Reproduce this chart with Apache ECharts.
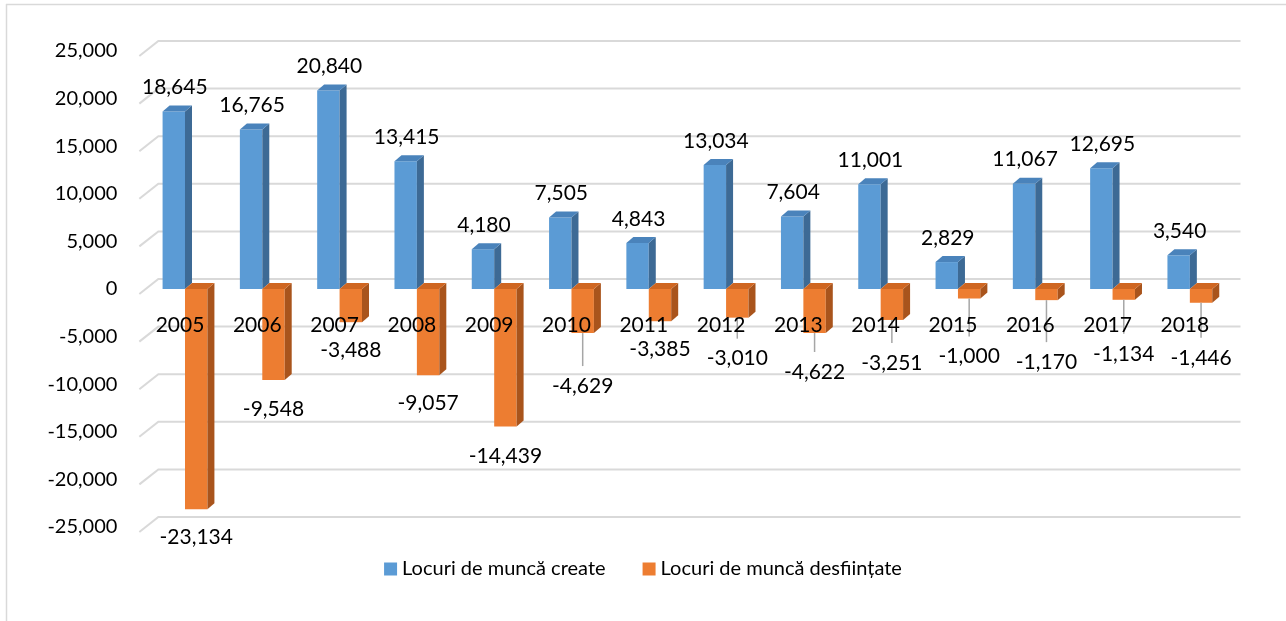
<!DOCTYPE html>
<html>
<head>
<meta charset="utf-8">
<script src="https://cdn.jsdelivr.net/npm/echarts@6/dist/echarts.min.js"></script>
<style>
  html, body { margin: 0; padding: 0; background: #fff; }
  #chart { width: 1286px; height: 621px; }
</style>
</head>
<body>
<div id="chart"></div>
<script>
// ---- data ----
const years = ['2005','2006','2007','2008','2009','2010','2011','2012','2013','2014','2015','2016','2017','2018'];
const created = [18645, 16765, 20840, 13415, 4180, 7505, 4843, 13034, 7604, 11001, 2829, 11067, 12695, 3540];
const destroyed = [-23134, -9548, -3488, -9057, -14439, -4629, -3385, -3010, -4622, -3251, -1000, -1170, -1134, -1446];
const yTicks = [-25000, -20000, -15000, -10000, -5000, 0, 5000, 10000, 15000, 20000, 25000];
const seriesNames = ['Locuri de muncă create', 'Locuri de muncă desființate'];

// ---- styling (label placement below the negative bars, px) ----
const destroyedLabelGap = [28, 29, 28, 28, 30, 53, 28, 41, 39, 43, 58, 62, 54, 55];

const FONT = 'Lato';
const FS = 21;
const fmt = v => Number(v).toLocaleString('en-US');
const DX = 7, DY = 6;

function barRenderer(isLeft, colors) {
  return function (params, api) {
    const i = api.value(0);
    const v = api.value(1);
    const p0 = api.coord([i, 0]);
    const p1 = api.coord([i, v]);
    const band = api.size([1, 0])[0];
    const w = band * 0.29;
    const c = p0[0];
    const x0 = isLeft ? c - w : c;
    const x1 = x0 + w;
    const top = Math.min(p0[1], p1[1]);
    const bot = Math.max(p0[1], p1[1]);
    const children = [
      { type: 'rect', shape: { x: x0, y: top, width: w, height: bot - top }, style: { fill: colors.front } },
      { type: 'polygon', shape: { points: [[x1, top], [x1 + DX, top - DY], [x1 + DX, bot - DY], [x1, bot]] }, style: { fill: colors.side } },
      { type: 'polygon', shape: { points: [[x0, top], [x1, top], [x1 + DX, top - DY], [x0 + DX, top - DY]] }, style: { fill: colors.top } }
    ];
    const cx = (x0 + x1) / 2;
    if (v >= 0) {
      children.push({ type: 'text', style: { text: fmt(v), x: cx + 1, y: top - 24, align: 'center', verticalAlign: 'middle', font: FS + 'px ' + FONT, fill: '#000' } });
    } else {
      const gap = destroyedLabelGap[params.dataIndex];
      const ly = bot + gap;
      if (gap > 35) {
        children.push({ type: 'line', shape: { x1: cx, y1: bot, x2: cx, y2: ly - 20 }, style: { stroke: '#a6a6a6', lineWidth: 1.5 } });
      }
      children.push({ type: 'text', style: { text: fmt(v), x: cx, y: ly, align: 'center', verticalAlign: 'middle', font: FS + 'px ' + FONT, fill: '#000' } });
    }
    return { type: 'group', children: children };
  };
}

function gridRenderer(params, api) {
  const v = api.value(1);
  const band = api.size([1, 0])[0];
  const L = api.coord([0, v])[0] - band / 2;
  const R = api.coord([years.length - 1, v])[0] + band / 2;
  const y = api.coord([0, v])[1];
  return {
    type: 'polyline',
    shape: { points: [[L - 7, y + 5], [L + 12, y - 10], [R + 12, y - 10]] },
    style: { stroke: '#d9d9d9', lineWidth: 2, fill: null }
  };
}

const blue = { front: '#5b9bd5', side: '#3d6a95', top: '#4a83bb' };
const orange = { front: '#ed7d31', side: '#a9541c', top: '#cf6621' };

const GRID_TOP = 51, GRID_BOTTOM = 94, CH = 621;
// distance from the bottom of the grid to the zero line
const zeroOffset = (CH - GRID_BOTTOM - GRID_TOP) * 25000 / 50000;

const chart = echarts.init(document.getElementById('chart'));
chart.setOption({
  animation: false,
  backgroundColor: '#fff',
  textStyle: { fontFamily: FONT },
  grid: { left: 146.35, right: 57.5, top: GRID_TOP, bottom: GRID_BOTTOM, containLabel: false },
  graphic: [
    { type: 'line', shape: { x1: 6.5, y1: 4, x2: 6.5, y2: 621 }, style: { stroke: '#d9d9d9', lineWidth: 1.5 }, z: 100 },
    { type: 'line', shape: { x1: 6, y1: 4.5, x2: 1286, y2: 4.5 }, style: { stroke: '#d9d9d9', lineWidth: 1.5 }, z: 100 }
  ],
  legend: {
    bottom: 37,
    left: 'center',
    itemWidth: 13,
    itemHeight: 13,
    itemGap: 37,
    icon: 'rect',
    textStyle: { fontSize: 20, fontFamily: FONT, color: '#000' },
    data: seriesNames
  },
  xAxis: {
    type: 'category',
    data: years,
    z: 10,
    position: 'bottom',
    offset: -zeroOffset,
    axisLine: { show: false, onZero: false },
    axisTick: { show: false },
    splitLine: { show: false },
    axisLabel: { margin: 26, fontSize: FS, fontFamily: FONT, color: '#000', padding: [0, 10, 0, 0] }
  },
  yAxis: {
    type: 'value',
    min: -25000,
    max: 25000,
    interval: 5000,
    axisLine: { show: false },
    axisTick: { show: false },
    splitLine: { show: false },
    axisLabel: { margin: 29, fontSize: 20, fontFamily: FONT, color: '#000', padding: [11, 0, 0, 0], formatter: fmt }
  },
  series: [
    {
      type: 'custom',
      name: 'grid',
      silent: true,
      z: 1,
      renderItem: gridRenderer,
      data: yTicks.map(v => [0, v]),
      encode: { x: 0, y: 1 }
    },
    {
      type: 'custom',
      name: seriesNames[0],
      z: 3,
      itemStyle: { color: blue.front },
      renderItem: barRenderer(true, blue),
      data: created.map((v, i) => [i, v]),
      encode: { x: 0, y: 1 }
    },
    {
      type: 'custom',
      name: seriesNames[1],
      z: 4,
      itemStyle: { color: orange.front },
      renderItem: barRenderer(false, orange),
      data: destroyed.map((v, i) => [i, v]),
      encode: { x: 0, y: 1 }
    }
  ]
});
</script>
</body>
</html>
